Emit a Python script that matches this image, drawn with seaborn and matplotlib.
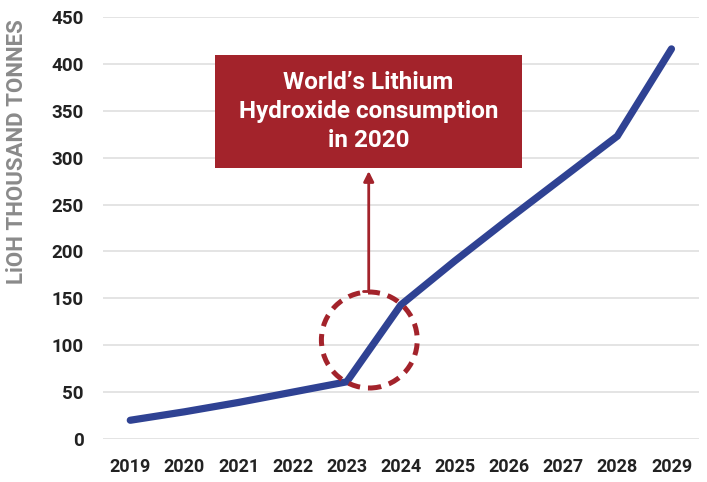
import matplotlib
matplotlib.use("Agg")
import matplotlib.pyplot as plt
from matplotlib.patches import Rectangle, Ellipse
import pandas as pd
import seaborn as sns

# values
years = [2019, 2020, 2021, 2022, 2023, 2024, 2025, 2026, 2027, 2028, 2029]
consumption = [20, 29, 39, 50, 61, 143, 190, 235, 279, 323, 416]
y_ticks = [0, 50, 100, 150, 200, 250, 300, 350, 400, 450]
callout_text = "World\u2019s Lithium\nHydroxide consumption\nin 2020"

BLUE = "#2f4293"
RED = "#a3232b"

sns.set_theme(style="whitegrid")
plt.rcParams["font.family"] = ["Roboto", "DejaVu Sans"]

df = pd.DataFrame({"year": years, "value": consumption})

fig = plt.figure(figsize=(7.07, 4.82), dpi=100)
ax = fig.add_axes([0.146, 0.0892, 0.842, 0.8755])

sns.lineplot(data=df, x="year", y="value", ax=ax, color=BLUE, linewidth=5.2,
             solid_capstyle="round", solid_joinstyle="miter")

ax.set_xlim(years[0] - 0.5, years[-1] + 0.5)
ax.set_ylim(0, 450)
ax.set_xticks(years)
ax.set_xticklabels([str(y) for y in years])
ax.set_yticks(y_ticks)

ax.grid(axis="y", color="#dcdcdc", linewidth=1.1)
ax.grid(axis="x", visible=False)
for s in ax.spines.values():
    s.set_visible(False)

ax.tick_params(axis="both", length=0, labelcolor="#222222")
ax.tick_params(axis="y", pad=14, labelsize=13.5)
ax.tick_params(axis="x", pad=14, labelsize=13)
for lbl in ax.get_xticklabels() + ax.get_yticklabels():
    lbl.set_fontweight("bold")

ax.set_xlabel("")
ax.set_ylabel("LiOH THOUSAND TONNES", fontsize=16, fontweight="bold",
              color="#8a8a8a")
ax.yaxis.set_label_coords(-0.126, 0.68)

# callout box
ax.add_patch(Rectangle((0.188, 0.642), 0.515, 0.268, transform=ax.transAxes,
                       facecolor=RED, edgecolor="none", zorder=5))
ax.text(0.4455, 0.776, callout_text, transform=ax.transAxes, ha="center",
        va="center", color="white", fontsize=17.5, fontweight="bold",
        linespacing=1.35, zorder=6)

# dashed circle around the 2023-2024 jump
ax.add_patch(Ellipse((0.447, 0.2346), 0.161, 0.2275, transform=ax.transAxes,
                     fill=False, edgecolor=RED, linewidth=3.6,
                     linestyle=(0, (2.4, 1.6)), zorder=4))

# arrow from circle up to the box
ax.annotate("", xy=(0.446, 0.635), xytext=(0.446, 0.35),
            xycoords="axes fraction", textcoords="axes fraction",
            arrowprops=dict(arrowstyle="-|>,head_length=0.5,head_width=0.25",
                            color=RED, linewidth=2, shrinkA=0, shrinkB=0),
            zorder=4)
ax.plot([0.437, 0.455], [0.35, 0.35], transform=ax.transAxes, color=RED,
        linewidth=2, zorder=4)

fig.savefig("out.png", dpi=100)
